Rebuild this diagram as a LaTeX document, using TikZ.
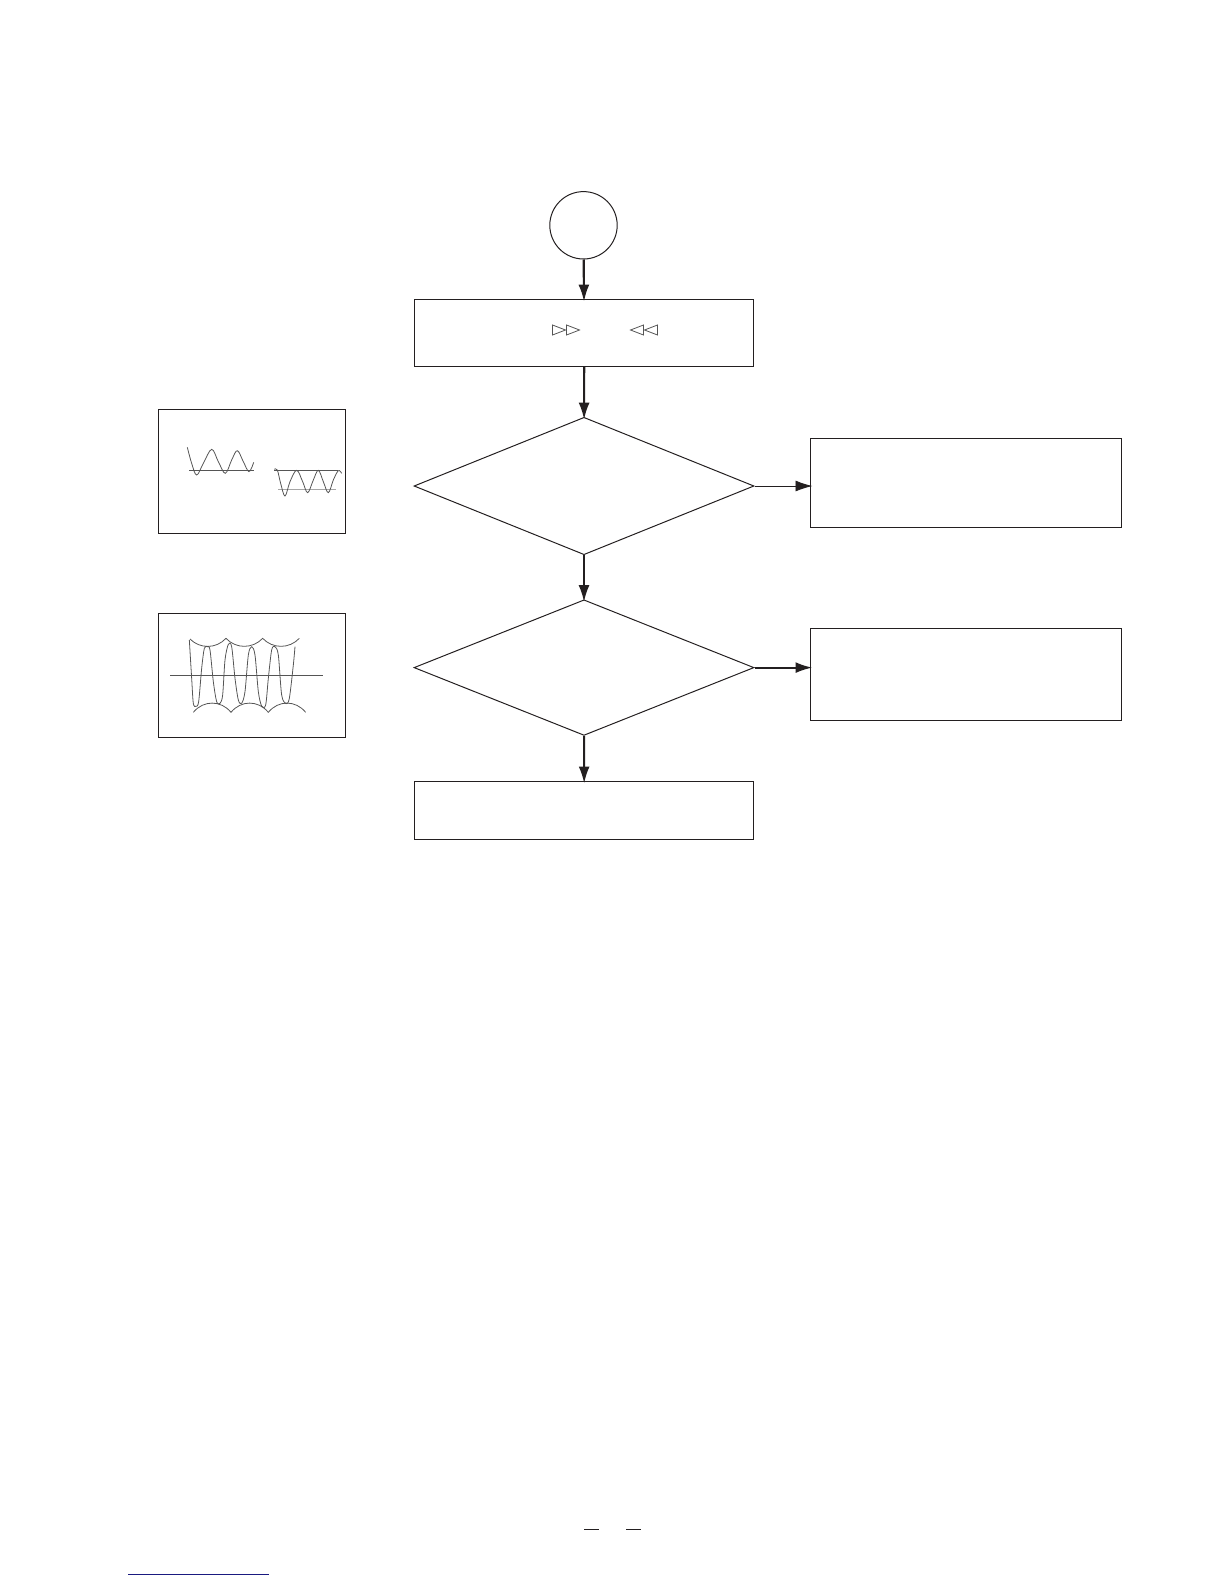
\documentclass[tikz,border=0pt]{standalone}
\usepackage{xcolor}
\definecolor{chartInk}{HTML}{231F20}
\definecolor{traceInk}{HTML}{555555}
\definecolor{linkBlue}{HTML}{1A1A80}
\usetikzlibrary{arrows.meta,shapes.geometric}
\tikzset{
  chartbox/.style={rectangle, draw=chartInk, line width=0.5pt, inner sep=0pt},
  choice/.style={diamond, draw=chartInk, line width=0.5pt, inner sep=0pt},
  flowthick/.style={draw=chartInk, line width=1.1pt, shorten >=-1.4bp, -{Latex[length=8.5bp,width=5.5bp]}},
  flowthin/.style={draw=chartInk, line width=0.45pt, shorten >=-1.4bp, -{Latex[length=8.5bp,width=5.5bp]}},
  trace/.style={traceInk, line width=0.4pt},
  cropunits/.style={x=0.16667bp, y=-0.16667bp}
}

\begin{document}
\begin{tikzpicture}[x=0.5bp, y=-0.5bp]
  \useasboundingbox (0,0) rectangle (1224,1584);
  \node[circle, draw=chartInk, line width=0.5pt, inner sep=0pt, minimum size=33.7bp] (start) at (583.5,225.3) {};
  \node[chartbox, minimum width=169.7bp, minimum height=33.5bp] (fwd) at (584.2,332.8) {};
  \node[choice, minimum width=170bp, minimum height=68.7bp] (envelope) at (584,486) {};
  \node[choice, minimum width=170bp, minimum height=67.8bp] (ripple) at (584,667.6) {};
  \node[chartbox, minimum width=169.7bp, minimum height=29bp] (finish) at (584.2,810.2) {};
  \node[chartbox, minimum width=155.5bp, minimum height=44.5bp] (fixA) at (965.7,482.8) {};
  \node[chartbox, minimum width=155.5bp, minimum height=46bp] (fixB) at (965.7,674.3) {};
  \node[chartbox, minimum width=93.7bp, minimum height=62bp] (waveA) at (252,471.3) {};
  \node[chartbox, minimum width=93.7bp, minimum height=62bp] (waveB) at (252,675.3) {};
  \draw[flowthick] (start) -- (fwd);
  \draw[flowthick] (fwd) -- (envelope);
  \draw[flowthick] (envelope) -- (ripple);
  \draw[flowthick] (ripple) -- (finish);
  \draw[flowthin] (envelope.east) -- (fixA.west |- envelope.east);
  \draw[flowthick] (ripple.east) -- (fixB.west |- ripple.east);
  % button marks
  \foreach \tx in {552.5,566.5}
    \draw[traceInk, line width=0.4pt] (\tx,325) -- (\tx+13,330) -- (\tx,335) -- cycle;
  \foreach \tx in {643.5,657.5}
    \draw[traceInk, line width=0.4pt] (\tx,325) -- (\tx-13,330) -- (\tx,335) -- cycle;
  % small waveforms
  \begin{scope}[shift={(150,400)}, cropunits]
    \draw[trace] (118,211) -- (311,211);
    \draw[trace] plot[smooth, tension=0.6] coordinates {(112,142) (125,190) (140,225) (160,190) (185,148) (205,185) (226,220) (245,180) (262,152) (280,185) (297,215) (311,187)};
    \draw[trace] (373,211) -- (565,211);
    \draw[trace, gray!70] (385,269) -- (558,269);
    \draw[trace] plot[smooth, tension=0.6] coordinates {(373,208) (382,210) (392,250) (405,288) (420,245) (440,211) (458,245) (473,278) (490,240) (505,211) (520,245) (535,278) (550,240) (565,212) (575,220)};
  \end{scope}
  \begin{scope}[shift={(150,605)}, cropunits]
    \draw[trace] (60,211) -- (518,211);
    \draw[trace] (120,102) .. controls (150,132) and (198,132) .. (228,100)
      .. controls (258,132) and (308,132) .. (338,100)
      .. controls (368,132) and (418,132) .. (448,100);
    \draw[trace] (130,322) .. controls (160,285) and (213,285) .. (243,322)
      .. controls (273,285) and (325,285) .. (355,322)
      .. controls (385,285) and (437,285) .. (467,322);
    \draw[trace] plot[smooth, tension=0.5] coordinates {(118,105) (125,220) (130,295) (138,304) (146,290) (155,190) (163,130) (172,125) (180,135) (190,230) (200,290) (210,295) (218,270) (225,165) (235,118) (245,125) (255,220) (265,285) (275,295) (285,260) (295,150) (305,125) (315,150) (325,260) (335,303) (347,300) (355,220) (365,135) (375,125) (385,150) (395,270) (408,296) (418,280) (430,180) (435,125)};
  \end{scope}
  % page marks
  \draw[chartInk, line width=0.5pt] (584,1529) -- (599,1529);
  \draw[chartInk, line width=0.5pt] (626,1529) -- (641,1529);
  \draw[linkBlue, line width=0.5pt] (128,1574.5) -- (269,1574.5);
\end{tikzpicture}
\end{document}
